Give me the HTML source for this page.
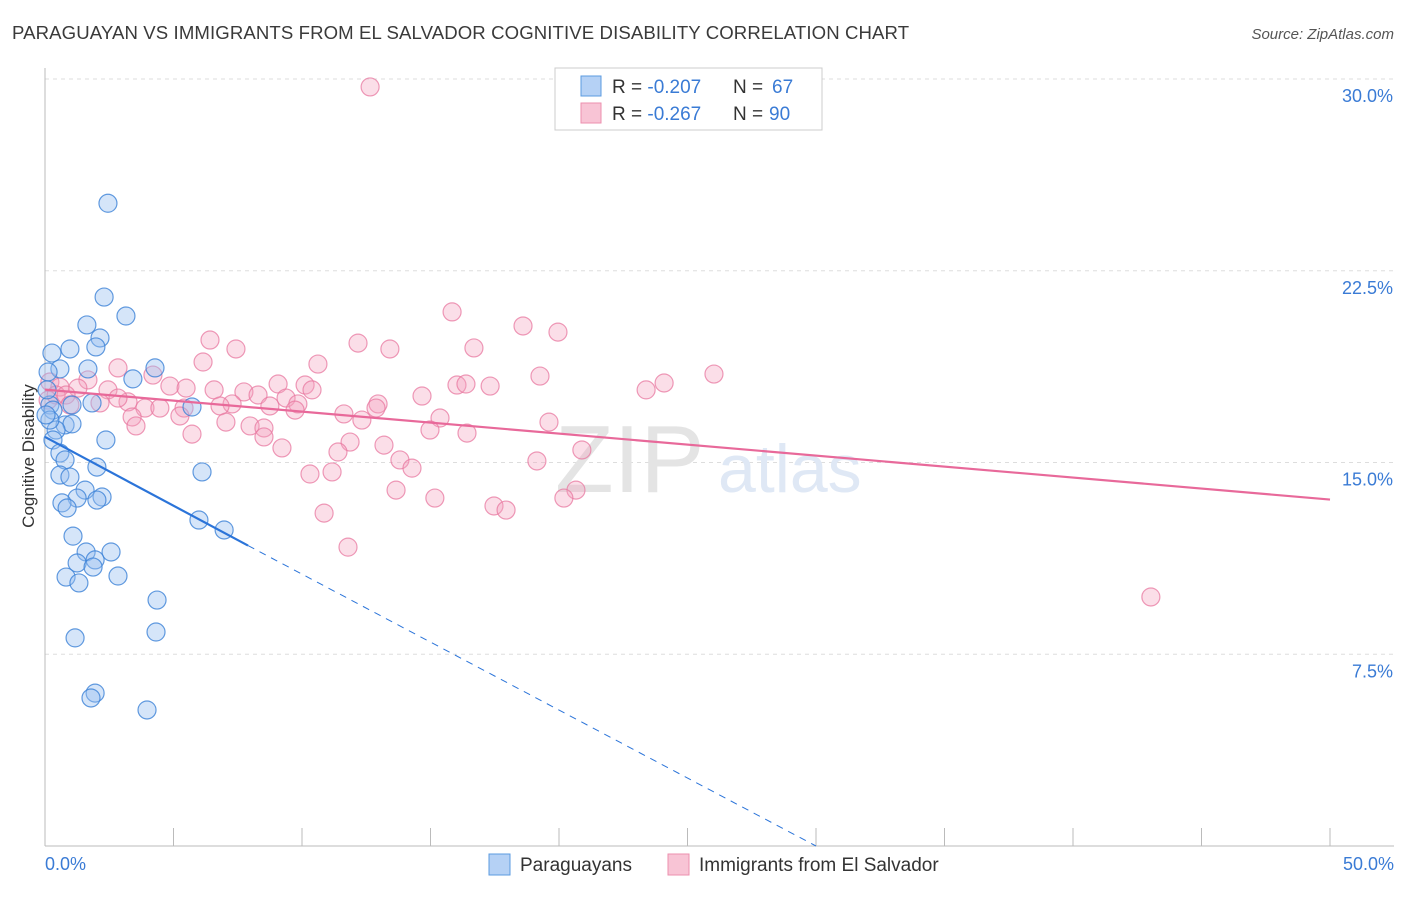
<!DOCTYPE html>
<html><head><meta charset="utf-8"><style>
body{margin:0;background:#fff;font-family:"Liberation Sans",sans-serif}
svg text{font-family:"Liberation Sans",sans-serif}
</style></head><body>
<svg id="chart" width="1406" height="892">
<text x="12" y="39" font-size="18.6" letter-spacing="0.1" fill="#3a3a3a">PARAGUAYAN VS IMMIGRANTS FROM EL SALVADOR COGNITIVE DISABILITY CORRELATION CHART</text>
<text x="1394" y="39" font-size="15" fill="#555" font-style="italic" text-anchor="end">Source: ZipAtlas.com</text>
<g id="grid"></g>
<g id="axes"></g>
<text x="555" y="492" font-size="96" fill="#e4e4e4" font-family="Liberation Serif">ZIP</text>
<text x="718" y="492" font-size="68" fill="#dfe8f5">atlas</text>
<g id="marks"></g>
<text transform="translate(34,456) rotate(-90)" font-size="17" fill="#333" text-anchor="middle">Cognitive Disability</text>
<g>
<rect x="555" y="68" width="267" height="62" fill="#fff" stroke="#ccc"/>
<rect x="581" y="76" width="20" height="20" fill="#b5d1f5" stroke="#5b9be0"/>
<rect x="581" y="103" width="20" height="20" fill="#f8c4d5" stroke="#ec8fae"/>
<text x="612" y="93" font-size="19" fill="#333">R = <tspan fill="#3a7bd5">-0.207</tspan></text>
<text x="733" y="93" font-size="19" fill="#333">N =</text>
<text x="772" y="93" font-size="19" fill="#3a7bd5">67</text>
<text x="612" y="120" font-size="19" fill="#333">R = <tspan fill="#3a7bd5">-0.267</tspan></text>
<text x="733" y="120" font-size="19" fill="#333">N =</text>
<text x="769" y="120" font-size="19" fill="#3a7bd5">90</text>
</g>
<g>
<rect x="489" y="854" width="21" height="21" fill="#b5d1f5" stroke="#5b9be0"/>
<text x="520" y="871" font-size="19" fill="#333">Paraguayans</text>
<rect x="668" y="854" width="21" height="21" fill="#f8c4d5" stroke="#ec8fae"/>
<text x="699" y="871" font-size="19" fill="#333">Immigrants from El Salvador</text>
</g>
</svg>
<script>
const xTicks=[0,5,10,15,20,25,30,35,40,45,50];
const yTicks=[7.5,15,22.5,30];
const yTickLabels=["7.5%","15.0%","22.5%","30.0%"];
const blueX=[2.45,2.30,3.15,1.63,2.14,1.98,0.97,0.27,0.58,1.67,4.28,3.42,0.12,0.19,1.05,1.83,5.72,0.31,0.78,1.05,0.43,2.37,0.31,0.58,0.78,2.02,6.11,0.58,0.97,1.56,1.25,2.22,2.02,0.66,0.86,5.99,6.97,1.09,1.60,2.57,1.95,1.25,1.87,0.82,2.84,1.32,4.36,1.17,4.32,1.95,1.79,3.97,0.08,0.19,0.04];
const blueY=[25.14,21.47,20.73,20.38,19.87,19.52,19.44,19.28,18.66,18.66,18.70,18.27,18.54,17.25,17.25,17.33,17.17,17.05,16.47,16.51,16.27,15.88,15.88,15.37,15.10,14.82,14.63,14.51,14.43,13.92,13.61,13.65,13.53,13.42,13.22,12.75,12.36,12.12,11.50,11.50,11.19,11.07,10.91,10.52,10.56,10.29,9.62,8.14,8.37,5.98,5.79,5.32,17.84,16.66,16.86];
const pinkX=[12.65,15.84,18.60,19.96,6.42,7.43,12.18,13.42,16.69,6.15,10.62,2.84,4.20,26.03,19.26,24.09,23.39,1.67,0.19,0.58,1.28,2.45,4.86,5.49,6.58,7.74,9.07,10.12,10.39,16.03,16.38,17.32,14.67,9.38,7.28,8.29,3.23,3.89,4.47,5.41,6.81,8.75,9.84,2.14,12.96,11.63,9.73,12.88,15.37,3.39,5.25,7.04,12.33,3.54,7.98,8.52,14.98,19.61,5.72,16.42,8.52,11.87,13.19,9.22,20.89,11.40,13.81,14.28,19.14,10.31,11.17,13.66,15.17,20.66,20.19,17.47,17.94,10.86,11.79,43.03,0.12,0.43,0.82,0.97,2.84];
const pinkY=[29.69,20.89,20.34,20.10,19.79,19.44,19.67,19.44,19.48,18.93,18.85,18.70,18.42,18.46,18.38,18.11,17.84,18.23,18.15,17.95,17.91,17.84,17.99,17.91,17.84,17.76,18.07,18.03,17.84,18.03,18.07,17.99,17.60,17.52,17.29,17.64,17.37,17.13,17.13,17.13,17.21,17.21,17.29,17.33,17.29,16.90,17.05,17.13,16.74,16.78,16.82,16.58,16.66,16.43,16.43,16.35,16.27,16.58,16.11,16.15,16.00,15.80,15.68,15.57,15.49,15.41,15.10,14.78,15.06,14.55,14.63,13.92,13.61,13.92,13.61,13.30,13.14,13.02,11.69,9.74,17.44,17.64,17.64,17.25,17.52];
const blueTrend=[0,16.0,7.9,11.75,30,0];
const pinkTrend=[0,17.85,50,13.55];
const NS='http://www.w3.org/2000/svg';
function sx(v){return 45+v/50*1285;}
function sy(v){return 846-v/30*767;}
function el(t,a,p){const e=document.createElementNS(NS,t);for(const k in a)e.setAttribute(k,a[k]);p.appendChild(e);return e;}
const grid=document.getElementById('grid'),axes=document.getElementById('axes'),marks=document.getElementById('marks');
yTicks.forEach((v,i)=>{
 const l=el('line',{x1:45,x2:1394,y1:sy(v),y2:sy(v),stroke:'#ddd','stroke-dasharray':'4,4'},grid);
 
 
 const t=el('text',{x:1393,y:sy(v)+23,'font-size':18,fill:'#3a7bd5','text-anchor':'end'},axes);
 t.textContent=yTickLabels[i];
 
 
});
el('line',{x1:45,x2:45,y1:68,y2:846,stroke:'#bbb'},axes);
el('line',{x1:45,x2:1394,y1:846,y2:846,stroke:'#bbb'},axes);
xTicks.forEach(v=>{const l=el('line',{x1:sx(v),x2:sx(v),y1:828,y2:846,stroke:'#bbb'},axes);
 
 });
let t0=el('text',{x:45,y:870,'font-size':18,fill:'#3a7bd5'},axes);t0.textContent=xTicks[0].toFixed(1)+'%';


let t1=el('text',{x:1394,y:870,'font-size':18,fill:'#3a7bd5','text-anchor':'end'},axes);t1.textContent=xTicks[xTicks.length-1].toFixed(1)+'%';


pinkX.forEach((x,i)=>{const c=el('circle',{cx:sx(x),cy:sy(pinkY[i]),r:9,fill:'rgba(244,160,190,0.35)',stroke:'rgba(232,120,160,0.75)','stroke-width':1.2},marks);
 
 });
blueX.forEach((x,i)=>{const c=el('circle',{cx:sx(x),cy:sy(blueY[i]),r:9,fill:'rgba(150,190,240,0.4)',stroke:'rgba(60,130,215,0.8)','stroke-width':1.2},marks);
 
 });
const bl=el('line',{x1:sx(blueTrend[0]),y1:sy(blueTrend[1]),x2:sx(blueTrend[2]),y2:sy(blueTrend[3]),stroke:'#2b74d9','stroke-width':2.2},marks);


const bd=el('line',{x1:sx(blueTrend[2]),y1:sy(blueTrend[3]),x2:sx(blueTrend[4]),y2:sy(blueTrend[5]),stroke:'#2b74d9','stroke-width':1,'stroke-dasharray':'7,6'},marks);


const pl=el('line',{x1:sx(pinkTrend[0]),y1:sy(pinkTrend[1]),x2:sx(pinkTrend[2]),y2:sy(pinkTrend[3]),stroke:'#e8699a','stroke-width':2.2},marks);


</script>
</body></html>
